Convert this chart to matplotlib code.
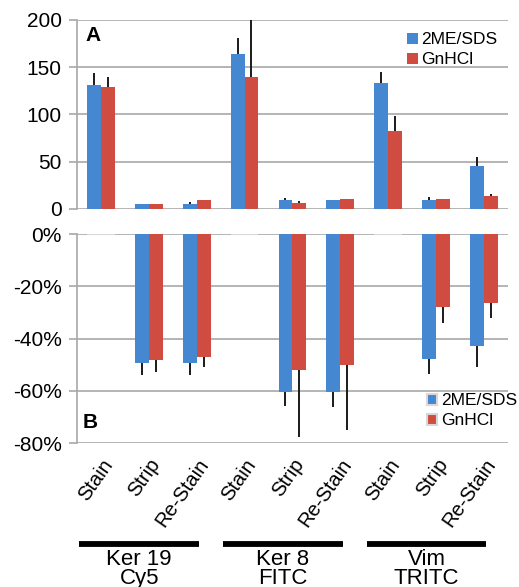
import matplotlib
matplotlib.use("Agg")
import matplotlib.pyplot as plt
import matplotlib.transforms as mtransforms
import numpy as np

plt.rcParams['font.family'] = ['Liberation Sans', 'DejaVu Sans']

categories = ['Stain', 'Strip', 'Re-Stain'] * 3
groups = ['Ker 19\nCy5', 'Ker 8\nFITC', 'Vim\nTRITC']
series = ['2ME/SDS', 'GnHCl']

top_me = [131, 5, 5.6, 164, 9.2, 9.9, 133, 10, 45.5]
top_me_err = [13, 0, 1.8, 16.6, 2.8, 0, 12, 2.4, 9.2]
top_gn = [129, 5, 9.2, 140, 6.3, 10.9, 82.5, 10.6, 14.1]
top_gn_err = [11, 0, 0, 75, 1.7, 0, 16, 0, 1.8]

bot_me = [0, -49.2, -49.2, 0, -60.3, -60.3, 0, -47.8, -42.7]
bot_me_err = [0, 4.9, 4.9, 0, 5.6, 6.1, 0, 5.6, 8.1]
bot_gn = [0, -48.4, -46.9, 0, -52.1, -50.2, 0, -27.8, -26.3]
bot_gn_err = [0, 4.3, 3.9, 0, 25.6, 24.9, 0, 6.4, 5.8]

BLUE = '#4687d1'
RED = '#d04b40'
GRID = '#a8a8a8'

fig = plt.figure(figsize=(5.19, 5.87), dpi=100)
axA = fig.add_axes([0.1484, 0.644, 0.830, 0.322])
axB = fig.add_axes([0.1484, 0.2453, 0.830, 0.356])

x = np.arange(len(categories))
w = 0.29


def style(ax):
    for s in ['top', 'right', 'bottom']:
        ax.spines[s].set_visible(False)
    ax.spines['left'].set_color(GRID)
    ax.spines['left'].set_linewidth(1.2)
    ax.yaxis.grid(True, color=GRID, linewidth=1.2)
    ax.set_axisbelow(True)
    ax.tick_params(axis='y', length=6, color=GRID, width=1.2, labelsize=15, pad=5)
    ax.tick_params(axis='x', length=0)
    ax.set_xlim(-0.5, len(categories) - 0.5)


def draw(ax, v1, e1, v2, e2):
    for vals, errs, off, col, lab in [(v1, e1, -w / 2, BLUE, series[0]), (v2, e2, w / 2, RED, series[1])]:
        vals = np.array(vals, dtype=float)
        errs = np.array(errs, dtype=float)
        edge = ['#d8d8d8' if v == 0 else 'none' for v in vals]
        ax.bar(x + off, vals, width=w, color=col, edgecolor=edge, linewidth=1.5, label=lab, zorder=2)
        lower = np.where(vals < 0, errs, 0)
        upper = np.where(vals >= 0, errs, 0)
        ax.errorbar(x + off, vals, yerr=[lower, upper], fmt='none', ecolor='#1a1a1a',
                    elinewidth=1.4, capsize=0, zorder=3)


draw(axA, top_me, top_me_err, top_gn, top_gn_err)
style(axA)
axA.set_ylim(0, 200)
axA.set_yticks([0, 50, 100, 150, 200])
axA.set_xticks([])
axA.text(0.02, 0.92, 'A', transform=axA.transAxes, fontsize=15, fontweight='bold', va='center', ha='left')
axA.legend(loc='upper right', bbox_to_anchor=(1.0, 0.99), frameon=False, fontsize=12.5,
           handlelength=0.6, handleheight=0.6, handletextpad=0.2, labelspacing=0.3,
           borderaxespad=0.2)

draw(axB, bot_me, bot_me_err, bot_gn, bot_gn_err)
style(axB)
axB.set_ylim(-80, 0)
axB.set_yticks([0, -20, -40, -60, -80])
axB.set_yticklabels([f'{t}%' for t in [0, -20, -40, -60, -80]])
axB.text(0.012, 0.096, 'B', transform=axB.transAxes, fontsize=15, fontweight='bold', va='center', ha='left')
axB.legend(loc='lower right', bbox_to_anchor=(1.045, 0.02), frameon=False, fontsize=12.5,
           handlelength=0.6, handleheight=0.6, handletextpad=0.2, labelspacing=0.3,
           borderaxespad=0.2)

axB.set_xticks(x)
axB.set_xticklabels(categories, rotation=55, ha='right', rotation_mode='anchor', fontsize=14.5)
axB.tick_params(axis='x', pad=9)

trans = mtransforms.blended_transform_factory(axB.transData, fig.transFigure)
for g, name in enumerate(groups):
    x0 = g * 3 - 0.45
    x1 = g * 3 + 2.05
    line = plt.Line2D([x0, x1], [1 - 544 / 587, 1 - 544 / 587], transform=trans, color='black',
                      linewidth=4.2, solid_capstyle='butt')
    fig.add_artist(line)
    fig.text((x0 + x1) / 2, 1 - 549 / 587, name, transform=trans, ha='center', va='top',
             fontsize=16, linespacing=0.9)

fig.savefig('out.png', dpi=100)
